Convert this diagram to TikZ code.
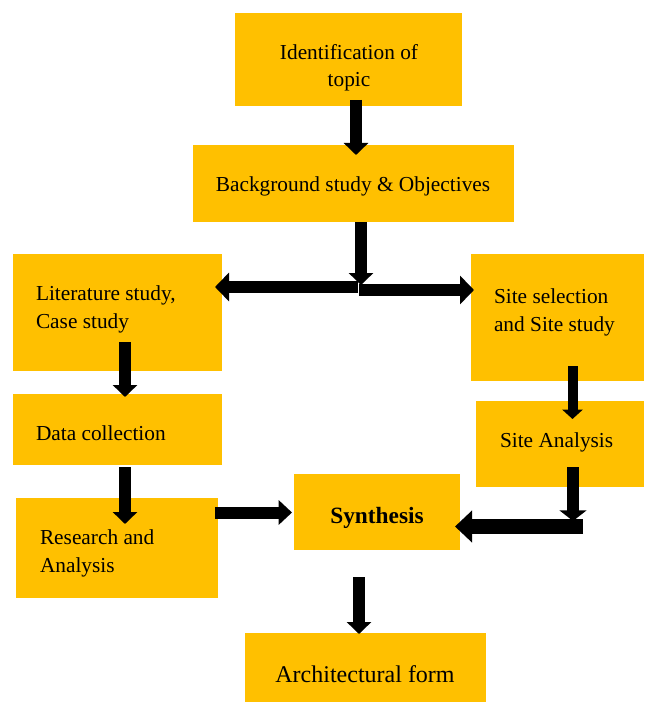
\documentclass[tikz,border=0pt]{standalone}
\usepackage{fontspec}
\setmainfont{Liberation Serif}
\usetikzlibrary{arrows.meta,fit}
\definecolor{boxfill}{HTML}{FFC000}
\tikzset{
  box/.style={fill=boxfill, draw=none, inner sep=0pt, outer sep=0pt, rectangle},
  lbl/.style={inner sep=0pt, outer sep=0pt, font=\fontsize{16pt}{20.5pt}\selectfont, text=black},
  blockarrow/.style={draw=black, line width=9pt, -{Triangle[width=18pt,length=9pt]}},
}
\begin{document}
\begin{tikzpicture}[x=0.75pt,y=-0.75pt]
\useasboundingbox (0,0) rectangle (645,702);
% boxes
\node[box, fit={(235,13)(462,106)}] (id) {};
\node[box, fit={(193,145)(514,222)}] (bg) {};
\node[box, fit={(13,254)(222,371)}] (lit) {};
\node[box, fit={(471,254)(644,381)}] (site) {};
\node[box, fit={(13,394)(222,465)}] (data) {};
\node[box, fit={(476,401)(644,487)}] (sa) {};
\node[box, fit={(16,498)(218,598)}] (res) {};
\node[box, fit={(294,474)(460,550)}] (syn) {};
\node[box, fit={(245,633)(486,702)}] (arch) {};
% texts (base anchor of a multi-line node = baseline of its last line)
\node[lbl, anchor=base, align=center] (tid) at (349,87) {Identification of\\topic};
\node[lbl, anchor=base] (tbg) at (353,192) {Background study \& Objectives};
\node[lbl, anchor=base west, align=left] (tlit) at (36,328) {Literature study,\\Case study};
\node[lbl, anchor=base west, align=left] (tsite) at (494,331) {Site selection\\and Site study};
\node[lbl, anchor=base west] (tdata) at (36,440) {Data collection};
\node[lbl, anchor=base west] (tsa) at (500,447) {Site Analysis};
\node[lbl, anchor=base west, align=left] (tres) at (40,572) {Research and\\Analysis};
\node[lbl, anchor=base, font=\fontsize{17.5pt}{21pt}\selectfont\bfseries] (tsyn) at (377,523) {Synthesis};
\node[lbl, anchor=base, font=\fontsize{18pt}{21pt}\selectfont] (tarch) at (365,682) {Architectural form};
% arrow end points
\coordinate (a1s) at (356,100); \coordinate (a1e) at (356,155);
\coordinate (a2s) at (361,222); \coordinate (a2e) at (361,285);
\coordinate (a3s) at (358,287); \coordinate (a3e) at (215,287);
\coordinate (a4s) at (359,290); \coordinate (a4e) at (474,290);
\coordinate (a5s) at (125,342); \coordinate (a5e) at (125,397);
\coordinate (a6s) at (125,467); \coordinate (a6e) at (125,524);
\coordinate (a7s) at (215,512.5); \coordinate (a7e) at (292,512.5);
\coordinate (a8s) at (572.5,366); \coordinate (a8e) at (572.5,419);
\coordinate (a9s) at (573,467); \coordinate (a9e) at (573,521);
\coordinate (a10s) at (583,526.5); \coordinate (a10e) at (455,526.5);
\coordinate (a11s) at (359,577); \coordinate (a11e) at (359,634);
% arrows
\draw[blockarrow] (a1s) -- (a1e);
\draw[blockarrow] (a2s) -- (a2e);
\draw[blockarrow, -{Triangle[width=21pt,length=10.5pt]}] (a3s) -- (a3e);
\draw[blockarrow, -{Triangle[width=21pt,length=10.5pt]}] (a4s) -- (a4e);
\draw[blockarrow] (a5s) -- (a5e);
\draw[blockarrow] (a6s) -- (a6e);
\draw[blockarrow, -{Triangle[width=18pt,length=10pt]}] (a7s) -- (a7e);
\draw[blockarrow, line width=7.5pt, -{Triangle[width=15pt,length=7pt]}] (a8s) -- (a8e);
\draw[blockarrow, -{Triangle[width=20pt,length=8pt]}] (a9s) -- (a9e);
\draw[blockarrow, line width=11.25pt, -{Triangle[width=23.25pt,length=12.75pt]}] (a10s) -- (a10e);
\draw[blockarrow] (a11s) -- (a11e);
\end{tikzpicture}
\end{document}
